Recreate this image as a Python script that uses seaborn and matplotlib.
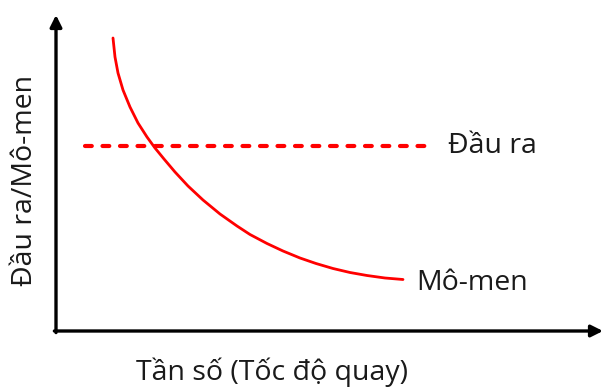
import matplotlib
matplotlib.use("Agg")
import matplotlib.pyplot as plt
import seaborn as sns
import pandas as pd

# --- data (arbitrary units) ---
freq = [57, 59, 62, 67, 74, 82, 91, 99, 108, 119, 132, 147, 164, 181, 194,
        211, 227, 244, 260, 277, 294, 311, 329, 347]
torque = [293, 274, 258, 241, 224, 208, 194, 183, 172, 159, 145, 131, 117, 105, 96.5,
          87.5, 80, 73, 67.5, 62.5, 58.5, 55.5, 53, 51.5]
output_x = [29, 369]
output_y = [185, 185]

labels = {"output": "Đầu ra", "torque": "Mô-men"}
xlabel = "Tần số (Tốc độ quay)"
ylabel = "Đầu ra/Mô-men"

W, H = 604, 390
sns.set_style("white")
plt.rcParams['font.family'] = ['Open Sans', 'DejaVu Sans']

fig = plt.figure(figsize=(W / 100, H / 100), dpi=100)
x0, y0, x1, y1 = 56, 331, 603, 15
ax = fig.add_axes([x0 / W, (H - y0) / H, (x1 - x0) / W, (y0 - y1) / H])
ax.set_xlim(0, x1 - x0)
ax.set_ylim(0, y0 - y1)

red = "#ff0000"
df_t = pd.DataFrame({"f": freq, "t": torque})
df_o = pd.DataFrame({"f": output_x, "t": output_y})
sns.lineplot(data=df_t, x="f", y="t", ax=ax, color=red, linewidth=2.0, sort=False)
ax.lines[-1].set_solid_joinstyle('round')
sns.lineplot(data=df_o, x="f", y="t", ax=ax, color=red, linewidth=3.0,
             dashes=False, sort=False)
ax.lines[-1].set_dashes((1.63, 2.57))
ax.lines[-1].set_dash_capstyle('round')

# axes drawn as arrows
for s in ax.spines.values():
    s.set_visible(False)
ax.set_xticks([])
ax.set_yticks([])
ax.set_xlabel("")
ax.set_ylabel("")
arrow = dict(arrowstyle="-|>,head_length=0.7,head_width=0.35", color="black",
             lw=2.4, shrinkA=0, shrinkB=0)
ax.annotate("", xy=(1, 0), xytext=(-0.003, 0), xycoords="axes fraction",
            arrowprops=arrow, annotation_clip=False)
ax.annotate("", xy=(0, 1), xytext=(0, -0.005), xycoords="axes fraction",
            arrowprops=arrow, annotation_clip=False)

txt = "#1a1a1a"
fs = 20.5
ax.text(output_x[1] + 23, output_y[0], labels["output"], fontsize=fs,
        color=txt, va="center", ha="left")
ax.text(freq[-1] + 13, torque[-1] - 3, labels["torque"], fontsize=fs,
        color=txt, va="center", ha="left")

fig.text(272 / W, 1 - 372 / H, xlabel, fontsize=fs, color=txt,
         ha="center", va="center")
fig.text(25 / W, 1 - 180 / H, ylabel, fontsize=fs, color=txt,
         ha="center", va="center", rotation=90)

fig.savefig("out.png", dpi=100)
